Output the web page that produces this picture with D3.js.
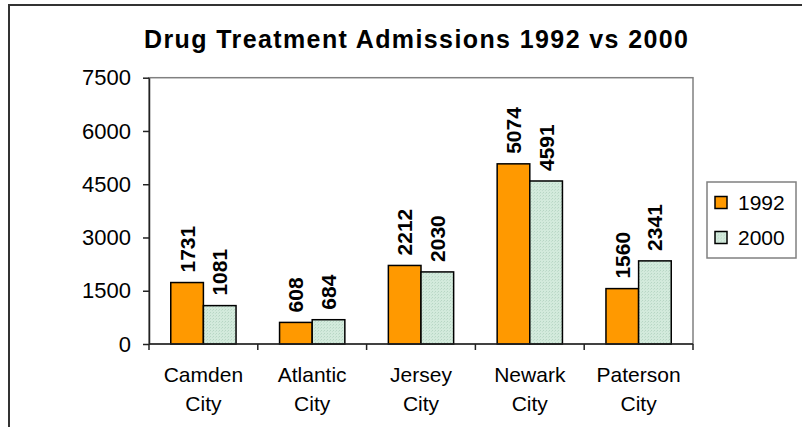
<!DOCTYPE html>
<html>
<head>
<meta charset="utf-8">
<script src="https://cdn.jsdelivr.net/npm/d3@7"></script>
<style>
  body { margin: 0; background: #fff; }
  text { font-family: "Liberation Sans", Arial, sans-serif; fill: #000; }
</style>
</head>
<body>
<div id="chart"></div>
<script>
const width = 802
const height = 427

const cities = ["Camden City", "Atlantic City", "Jersey City", "Newark City", "Paterson City"]
const years = ["1992", "2000"]
const admissions1992 = [1731, 608, 2212, 5074, 1560]
const admissions2000 = [1081, 684, 2030, 4591, 2341]
const yTicks = [0, 1500, 3000, 4500, 6000, 7500]

const series = [
  { year: years[0], values: admissions1992 },
  { year: years[1], values: admissions2000 }
]

// plot area box
const plot = { left: 149, right: 693, top: 77.7, bottom: 344 }

const svg = d3.select("#chart").append("svg")
  .attr("width", width)
  .attr("height", height)

const defs = svg.append("defs")
const pat = defs.append("pattern")
  .attr("id", "mint")
  .attr("width", 3).attr("height", 3)
  .attr("patternUnits", "userSpaceOnUse")
pat.append("rect").attr("width", 3).attr("height", 3).attr("fill", "#d3eadc")
pat.append("rect").attr("x", 0).attr("y", 0).attr("width", 1).attr("height", 1).attr("fill", "#b7d6c4")
pat.append("rect").attr("x", 2).attr("y", 1).attr("width", 1).attr("height", 1).attr("fill", "#c2dece")

const fills = { "1992": "#ff9900", "2000": "url(#mint)" }

// outer chart frame (runs off the right and bottom edge)
svg.append("rect")
  .attr("x", 9).attr("y", 5)
  .attr("width", 830).attr("height", 460)
  .attr("fill", "none")
  .attr("stroke", "#333")
  .attr("stroke-width", 2)

svg.append("text")
  .attr("x", 416)
  .attr("y", 48)
  .attr("text-anchor", "middle")
  .attr("font-size", 25)
  .attr("font-weight", "bold")
  .attr("textLength", 544)
  .attr("lengthAdjust", "spacing")
  .text("Drug Treatment Admissions 1992 vs 2000")

const x0 = d3.scaleBand()
  .domain(cities)
  .range([plot.left, plot.right])

const x1 = d3.scaleBand()
  .domain(years)
  .range([x0.bandwidth() * 0.2, x0.bandwidth() * 0.8])

const y = d3.scaleLinear()
  .domain([0, 7500])
  .range([plot.bottom, plot.top])

// plot area border
svg.append("rect")
  .attr("x", plot.left).attr("y", plot.top)
  .attr("width", plot.right - plot.left)
  .attr("height", plot.bottom - plot.top)
  .attr("fill", "none")
  .attr("stroke", "#808080")
  .attr("stroke-width", 1.5)

// bars
const groups = svg.append("g").selectAll("g")
  .data(series)
  .join("g")

groups.selectAll("rect")
  .data(s => s.values.map((v, i) => ({ year: s.year, city: cities[i], value: v })))
  .join("rect")
  .attr("x", d => x0(d.city) + x1(d.year))
  .attr("y", d => y(d.value))
  .attr("width", x1.bandwidth())
  .attr("height", d => y(0) - y(d.value))
  .attr("fill", d => fills[d.year])
  .attr("stroke", "#000")
  .attr("stroke-width", 1.5)

// value labels, rotated
groups.selectAll("text")
  .data(s => s.values.map((v, i) => ({ year: s.year, city: cities[i], value: v })))
  .join("text")
  .attr("transform", d => "translate(" + (x0(d.city) + x1(d.year) + x1.bandwidth() / 2) + "," + (y(d.value) - 10) + ") rotate(-90)")
  .attr("dy", "0.36em")
  .attr("font-size", 21)
  .attr("font-weight", "bold")
  .text(d => d.value)

// y axis
const yAxis = svg.append("g")
  .attr("transform", "translate(" + plot.left + ",0)")
  .call(d3.axisLeft(y).tickValues(yTicks).tickFormat(d3.format("d")).tickSize(6).tickPadding(12).tickSizeOuter(0))
yAxis.select(".domain").attr("stroke", "#222").attr("stroke-width", 1.5)
yAxis.selectAll(".tick line").attr("stroke", "#222").attr("stroke-width", 1.5)
yAxis.selectAll(".tick text")
  .attr("font-family", "Liberation Sans, Arial, sans-serif")
  .attr("font-size", 22)
  .attr("fill", "#000")

// x axis: line, boundary ticks, two-line labels
const xAxis = svg.append("g")
xAxis.append("line")
  .attr("x1", plot.left).attr("x2", plot.right)
  .attr("y1", y(0)).attr("y2", y(0))
  .attr("stroke", "#222").attr("stroke-width", 1.5)

const edges = cities.map(c => x0(c)).concat([plot.right])
xAxis.selectAll(".edge")
  .data(edges)
  .join("line")
  .attr("class", "edge")
  .attr("x1", d => d).attr("x2", d => d)
  .attr("y1", y(0)).attr("y2", y(0) + 6)
  .attr("stroke", "#222").attr("stroke-width", 1.5)

const labels = xAxis.selectAll(".cat")
  .data(cities)
  .join("text")
  .attr("class", "cat")
  .attr("text-anchor", "middle")
  .attr("font-size", 21)
labels.selectAll("tspan")
  .data(c => c.split(" ").map(w => ({ c: c, w: w })))
  .join("tspan")
  .attr("x", d => x0(d.c) + x0.bandwidth() / 2)
  .attr("y", (d, i) => 382 + i * 29)
  .text(d => d.w)

// legend
const legend = svg.append("g")
legend.append("rect")
  .attr("x", 707).attr("y", 182)
  .attr("width", 89).attr("height", 76)
  .attr("fill", "#fff")
  .attr("stroke", "#808080")
  .attr("stroke-width", 1.5)

const items = legend.selectAll(".item")
  .data(years)
  .join("g")
  .attr("class", "item")
  .attr("transform", (d, i) => "translate(715," + (196.5 + i * 35) + ")")
items.append("rect")
  .attr("width", 12).attr("height", 12)
  .attr("fill", d => fills[d])
  .attr("stroke", "#000")
  .attr("stroke-width", 1.5)
items.append("text")
  .attr("x", 23)
  .attr("y", 6)
  .attr("dy", "0.36em")
  .attr("font-size", 21)
  .text(d => d)
</script>
</body>
</html>
